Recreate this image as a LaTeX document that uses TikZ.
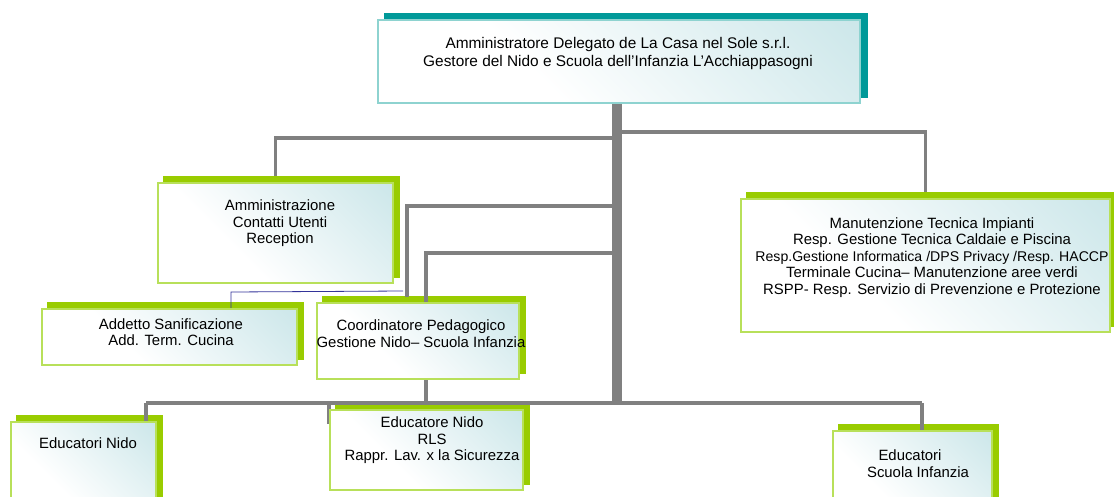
\documentclass[tikz,border=0pt]{standalone}
\usepackage{fontspec}
\setmainfont{Liberation Sans}
\usetikzlibrary{backgrounds}
\definecolor{gshadow}{HTML}{99CC00}
\definecolor{gborder}{HTML}{B8E05A}
\definecolor{tshadow}{HTML}{009999}
\definecolor{tborder}{HTML}{8ED3D0}
\definecolor{boxteal}{HTML}{BCDFE3}
\definecolor{conngray}{HTML}{808080}
\definecolor{bluel}{HTML}{333399}
\pgfdeclarehorizontalshading{boxshade}{100bp}{color(0bp)=(white); color(38bp)=(white); color(100bp)=(boxteal)}
\begin{document}
\begin{tikzpicture}[x=1pt,y=-1pt,
  box/.style={draw=gborder, line width=1.2pt, shading=boxshade, shading angle=45, inner sep=0pt},
  topbox/.style={box, draw=tborder},
  txt/.style={align=center, inner sep=0pt, font=\fontsize{14.9}{16.5}\selectfont},
  toptxt/.style={txt, font=\fontsize{15.4}{17.5}\selectfont},
  conn/.style={draw=conngray, line width=3.6pt},
  trunkline/.style={draw=conngray, line width=5pt},
  blueline/.style={draw=bluel, line width=0.8pt}]
\useasboundingbox (0,0) rectangle (1114,496);
\clip (0,0) rectangle (1114,496);
% boxes
\node[topbox, minimum width=482pt, minimum height=83pt] (top) at (619,61.5) {};
\node[box, minimum width=235pt, minimum height=100pt] (admin) at (275.5,233) {};
\node[box, minimum width=255pt, minimum height=56pt] (addetto) at (169.5,337) {};
\node[box, minimum width=202pt, minimum height=76pt] (coord) at (418,341) {};
\node[box, minimum width=369pt, minimum height=133pt] (manut) at (925.5,265.5) {};
\node[box, minimum width=145pt, minimum height=98pt] (ednido) at (83.5,471) {};
\node[box, minimum width=193pt, minimum height=80pt] (edrls) at (426.5,450) {};
\node[box, minimum width=159pt, minimum height=99pt] (edscuola) at (912.5,480.5) {};
% texts
\node[toptxt] (topT) at (618,53.5) {Amministratore Delegato de La Casa nel Sole s.r.l.\\Gestore del Nido e Scuola dell'Infanzia L'Acchiappasogni};
\node[txt] (adminT) at (280,223.5) {Amministrazione\\Contatti Utenti\\Reception};
\node[txt] (addT) at (171,332) {Addetto Sanificazione\\Add. Term. Cucina};
\node[txt] (coordT) at (421,333.5) {Coordinatore Pedagogico\\Gestione Nido-- Scuola Infanzia};
\node[txt] (manutT) at (932,257.5) {Manutenzione Tecnica Impianti\\Resp. Gestione Tecnica Caldaie e Piscina\\{\fontsize{14.1}{16.5}\selectfont Resp.Gestione Informatica /DPS Privacy /Resp. HACCP}\\Terminale Cucina-- Manutenzione aree verdi\\RSPP- Resp. Servizio di Prevenzione e Protezione};
\node[txt] (ednidoT) at (88,443) {Educatori Nido};
\node[txt] (edrlsT) at (432,440.5) {Educatore Nido\\RLS\\Rappr. Lav. x la Sicurezza};
\node[txt] (edscuolaT) at (918,463.5) {Educatori\hspace*{16pt}\\Scuola Infanzia};
\begin{scope}[on background layer]
  % shadows
  \fill[tshadow] ([shift={(7,-6)}]top.south west) rectangle ([shift={(7,-6)}]top.north east);
  \foreach \n in {admin,addetto,coord,manut,ednido,edrls,edscuola}
    \fill[gshadow] ([shift={(6,-6)}]\n.south west) rectangle ([shift={(6,-6)}]\n.north east);
  % junction points
  \coordinate (tl) at ([xshift=-4.5pt]top.south);
  \coordinate (tr) at ([xshift=0.5pt]top.south);
  \coordinate (bot) at (0,403);
  \coordinate (j1) at (0,138);
  \coordinate (j2) at (0,132);
  \coordinate (j3) at (0,206);
  \coordinate (j4) at (0,253);
  \coordinate (c1) at (407,297);
  \coordinate (cx) at (426,0);
  % trunk
  \draw[trunkline] (tl) -- (tl |- bot);
  \draw[trunkline] (tr) -- (tr |- bot);
  % branches
  \draw[conn] (tl |- j1) -| ([yshift=6pt]admin.north);
  \draw[conn] (tr |- j2) -| ([yshift=6pt]manut.north);
  \draw[conn] (tl |- j3) -| (c1);
  \draw[conn] (tl |- j4) -| (cx |- coord.north) -- ++(0,-5);
  \draw[conn] (cx |- coord.south) -- (cx |- bot);
  \coordinate (bl) at (146,403);
  \coordinate (br) at (922,403);
  \draw[conn] (bl) -- (br);
  \draw[conn] (bl) -- (bl |- ednido.north) -- ++(0,-6);
  \draw[conn] (br) -- (br |- edscuola.north) -- ++(0,-6);
  \coordinate (stub) at (329,403);
  \draw[conn] (stub) -- (329,424);
  % blue link
  \coordinate (b1) at (403,291);
  \coordinate (b2) at (231,292);
  \draw[blueline] (b1) -- (b2) -- (b2 |- addetto.north);
\end{scope}
\end{tikzpicture}
\end{document}
